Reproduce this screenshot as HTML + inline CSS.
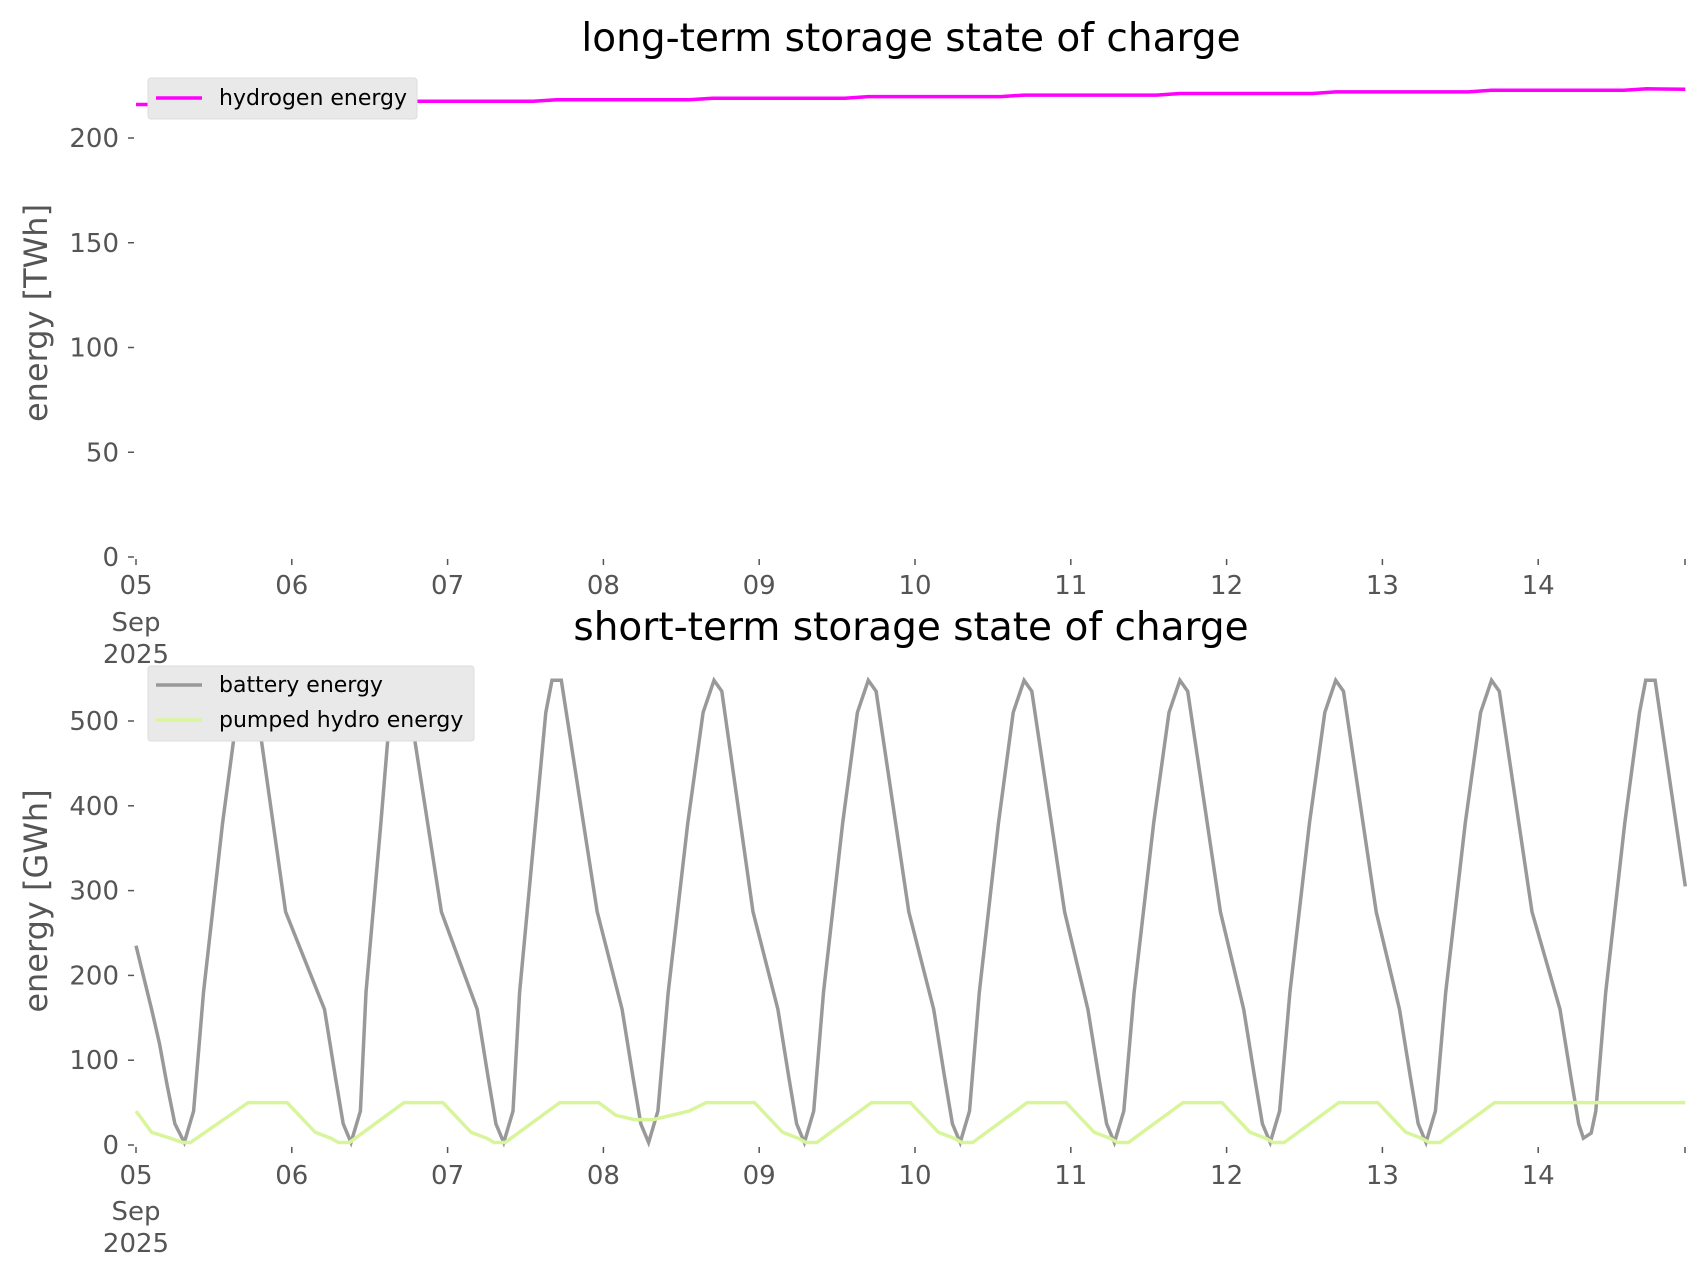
<!DOCTYPE html>
<html><head><meta charset="utf-8"><style>
body{margin:0;background:#fff;}
svg{display:block;font-family:"DejaVu Sans","Liberation Sans",sans-serif;}
</style></head><body>
<svg id="s" width="1706" height="1277" xmlns="http://www.w3.org/2000/svg">
<text x="911" y="51" font-size="39" text-anchor="middle" fill="#000">long-term storage state of charge</text>
<text x="911" y="640" font-size="39" text-anchor="middle" fill="#000">short-term storage state of charge</text>
<text transform="translate(47,313) rotate(-90)" font-size="32" text-anchor="middle" fill="#555">energy [TWh]</text>
<text transform="translate(47,901) rotate(-90)" font-size="32" text-anchor="middle" fill="#555">energy [GWh]</text>
<g id="ticks" font-size="26" fill="#555"></g>
<polyline id="h2" fill="none" stroke="#ff00ff" stroke-width="3.5"/>
<polyline id="bat" fill="none" stroke="#999" stroke-width="3.5"/>
<polyline id="ph" fill="none" stroke="#d9f59c" stroke-width="3.5"/>
<rect x="148" y="78" width="269" height="41" rx="3" fill="#e9e9e9" stroke="#ddd"/>
<line x1="156" y1="98" x2="202" y2="98" stroke="#ff00ff" stroke-width="3.5"/>
<text x="219" y="105" font-size="22" fill="#000">hydrogen energy</text>
<rect x="148" y="666" width="326" height="75" rx="3" fill="#e9e9e9" stroke="#ddd"/>
<line x1="156" y1="685" x2="202" y2="685" stroke="#999" stroke-width="3.5"/>
<text x="219" y="692" font-size="22" fill="#000">battery energy</text>
<line x1="156" y1="720" x2="202" y2="720" stroke="#d9f59c" stroke-width="3.5"/>
<text x="219" y="727" font-size="22" fill="#000">pumped hydro energy</text>
</svg>
<script>
var X0=136,DX=155.8,XE=1685;
function px(d){return X0+d*DX;}
var T0=557,S0=(557-138)/200,B0=1145,S1=(1145-721)/500;
var g=document.getElementById('ticks'),h='';
[0,50,100,150,200].forEach(function(v){var y=T0-v*S0;h+='<line x1="128" x2="134" y1="'+y+'" y2="'+y+'" stroke="#555" stroke-width="1.5"/><text x="119" y="'+(y+9)+'" text-anchor="end">'+v+'</text>';});
[0,100,200,300,400,500].forEach(function(v){var y=B0-v*S1;h+='<line x1="128" x2="134" y1="'+y+'" y2="'+y+'" stroke="#555" stroke-width="1.5"/><text x="119" y="'+(y+9)+'" text-anchor="end">'+v+'</text>';});
[[T0,585,622,654],[B0,1175,1211,1243]].forEach(function(a){
for(var i=0;i<10;i++){var x=px(i);h+='<line x1="'+x+'" x2="'+x+'" y1="'+(a[0]+2)+'" y2="'+(a[0]+8)+'" stroke="#555" stroke-width="1.5"/><text x="'+x+'" y="'+(a[1]+9)+'" text-anchor="middle">'+('0'+(5+i)).slice(-2)+'</text>';}
h+='<line x1="'+XE+'" x2="'+XE+'" y1="'+(a[0]+2)+'" y2="'+(a[0]+8)+'" stroke="#555" stroke-width="1.5"/>';
h+='<text x="'+X0+'" y="'+(a[2]+9)+'" text-anchor="middle">Sep</text><text x="'+X0+'" y="'+(a[3]+9)+'" text-anchor="middle">2025</text>';});
g.innerHTML=h;
function pl(id,pts,y0,s){document.getElementById(id).setAttribute('points',pts.map(function(p){return px(p[0]).toFixed(1)+','+(y0-p[1]*s).toFixed(1);}).join(' '));}
var hp=[];for(var d=0;d<10;d++){var v=216+d*0.75;hp.push([d+0.2,v],[d+0.55,v],[d+0.7,v+0.75]);}
hp.unshift([0,216]);hp.push([9.944,223.3]);pl('h2',hp,T0,S0);
var mins=[0.31,1.38,2.36,3.29,4.29,5.29,6.28,7.28,8.28,9.31];
var peaks=[0.72,1.7,2.7,3.71,4.7,5.7,6.7,7.7,8.7,9.72];
var flat=[1,1,1,0,0,0,0,0,0,1];
var b=[[0,235],[0.1,160],[0.15,120],[0.2,70],[0.25,25]];
for(var k=0;k<10;k++){var m=mins[k],p=peaks[k];
if(k==9){b.push([m-0.02,8],[m+0.03,14]);}else b.push([m,3]);
b.push([m+0.06,40],[m+(p-m)*0.3,180],[m+(p-m)*0.6,380],[p-0.07,510]);
if(flat[k]){b.push([p-0.03,548],[p+0.03,548]);}else{b.push([p,548],[p+0.05,535]);}
if(k<9){var n=mins[k+1];b.push([Math.floor(p)+0.96,275],[n-0.17,160],[n-0.1,80],[n-0.05,25]);}}
b.push([9.944,305]);pl('bat',b,B0,S1);
var q=[[0,40],[0.1,15],[0.22,8],[0.3,3],[0.35,3],[0.72,50],[0.97,50]];
for(var d=1;d<10;d++){
if(d==3){q.push([2.97,50],[3.08,35],[3.2,30],[3.32,30],[3.55,40],[3.66,50],[3.97,50]);continue;}
q.push([d+0.15,15],[d+0.25,8],[d+0.3,3],[d+0.37,3],[d+0.72,50]);
if(d<9)q.push([d+0.97,50]);else break;}
q.push([9.944,50]);
q=q.filter(function(p){return !(p[0]>9&&p[0]<9.72);});
pl('ph',q,B0,S1);
</script>
</body></html>
